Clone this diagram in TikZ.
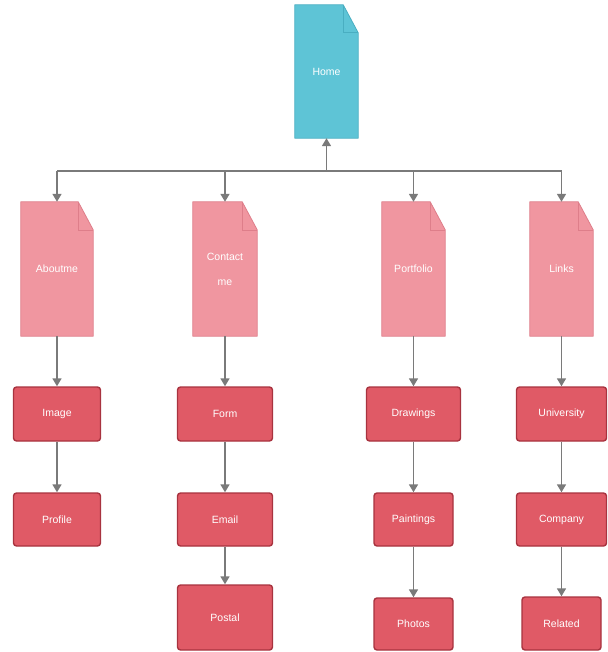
\documentclass[tikz,border=0pt]{standalone}
\usepackage{fontspec}
\newfontfamily\lblfont{Liberation Sans}
\usetikzlibrary{arrows.meta,calc,backgrounds}

\definecolor{homefill}{HTML}{5EC4D6}
\definecolor{homeline}{HTML}{49AEC1}
\definecolor{pagefill}{HTML}{F096A0}
\definecolor{pageline}{HTML}{DE7E8A}
\definecolor{boxfill}{HTML}{E05A66}
\definecolor{boxline}{HTML}{A8333F}
\definecolor{wire}{HTML}{7A7A7A}

\tikzset{
  doc/.style={rectangle, draw=none, inner sep=0pt, text=white, align=center,
    minimum height=134, font=\lblfont\fontsize{10.5}{25}\selectfont},
  leaf/.style={rectangle, rounded corners=3pt, fill=boxfill, draw=boxline,
    line width=1.4pt, inner sep=0pt, text=white, minimum height=54,
    font=\lblfont\fontsize{10.5}{12}\selectfont},
  bus/.style={draw=wire, line width=1.6pt},
  conn/.style={draw=wire, line width=1.6pt, -{Triangle[width=9pt,length=8pt]}},
}

% folded-corner page drawn behind a named node
\newcommand{\docpage}[3]{%
  \fill[#2] (#1.north west) -- ($(#1.north east)+(-15,0)$) --
    ($(#1.north east)+(0,28)$) -- (#1.south east) -- (#1.south west) -- cycle;
  \draw[#3, line width=0.8pt, line join=round] (#1.north west) -- ($(#1.north east)+(-15,0)$) --
    ($(#1.north east)+(0,28)$) -- (#1.south east) -- (#1.south west) -- cycle;
  \draw[#3, line width=0.6pt] ($(#1.north east)+(-15,0)$) -- ($(#1.north east)+(-15,28)$)
    -- ($(#1.north east)+(0,28)$);
}

\begin{document}
\begin{tikzpicture}[x=1pt, y=-1pt]
  \useasboundingbox (0,0) rectangle (607,652);

  % top page and section pages
  \node[doc, minimum width=63, minimum height=133] (home) at (326.5,71.5) {Home};
  \node[doc, minimum width=72] (about) at (57,269) {Aboutme};
  \node[doc, minimum width=64] (contact) at (225,269) {Contact\\me};
  \node[doc, minimum width=63] (portfolio) at (413.5,269) {Portfolio};
  \node[doc, minimum width=63] (links) at (561.5,269) {Links};

  % sub pages, first row
  \node[leaf, minimum width=87] (image) at (57,414) {Image};
  \node[leaf, minimum width=95] (form) at (225,414) {Form};
  \node[leaf, minimum width=94] (drawings) at (413.5,414) {Drawings};
  \node[leaf, minimum width=90] (university) at (561.5,414) {University};

  % second row
  \node[leaf, minimum width=87, minimum height=53] (profile) at (57,519.5) {Profile};
  \node[leaf, minimum width=95, minimum height=53] (email) at (225,519.5) {Email};
  \node[leaf, minimum width=79, minimum height=53] (paintings) at (413.5,519.5) {Paintings};
  \node[leaf, minimum width=90, minimum height=53] (company) at (561.5,519.5) {Company};

  % third row
  \node[leaf, minimum width=95, minimum height=65] (postal) at (225,617.5) {Postal};
  \node[leaf, minimum width=79, minimum height=52] (photos) at (413.5,624) {Photos};
  \node[leaf, minimum width=79, minimum height=53] (related) at (561.5,623.5) {Related};

  \begin{scope}[on background layer]
    \docpage{home}{homefill}{homeline}
    \docpage{about}{pagefill}{pageline}
    \docpage{contact}{pagefill}{pageline}
    \docpage{portfolio}{pagefill}{pageline}
    \docpage{links}{pagefill}{pageline}
  \end{scope}

  % distribution bus below the home page
  \coordinate (hub) at (326.5,171);
  \draw[conn] (hub) -- (hub |- home.south);
  \draw[bus] (about.north |- hub) -- (links.north |- hub);
  \foreach \n in {about,contact,portfolio,links}
    \draw[conn] (\n.north |- hub) -- (\n.north);

  % vertical chains
  \draw[conn] (about) -- (image);
  \draw[conn] (image) -- (profile);
  \draw[conn] (contact) -- (form);
  \draw[conn] (form) -- (email);
  \draw[conn] (email) -- (postal);
  \draw[conn] (portfolio) -- (drawings);
  \draw[conn] (drawings) -- (paintings);
  \draw[conn] (paintings) -- (photos);
  \draw[conn] (links) -- (university);
  \draw[conn] (university) -- (company);
  \draw[conn] (company) -- (related);
\end{tikzpicture}
\end{document}
